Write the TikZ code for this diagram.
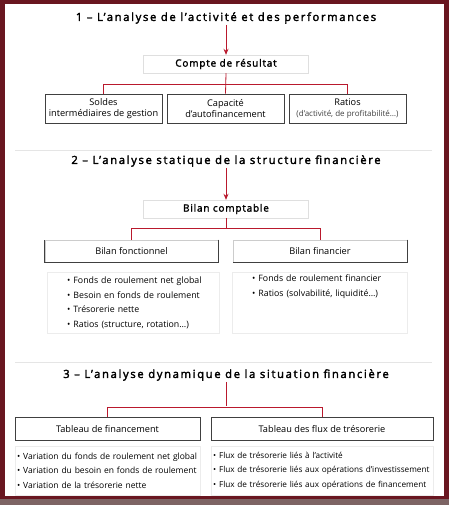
\documentclass[tikz,border=0pt]{standalone}
\usepackage{fontspec}
\setmainfont{Open Sans}
\newfontfamily\titlefont[LetterSpace=15,FakeBold=2.5]{Open Sans}
\newfontfamily\boxfont[LetterSpace=8,FakeBold=2]{Open Sans}
\usetikzlibrary{positioning}
\usetikzlibrary{arrows.meta}
\definecolor{rouge}{RGB}{185,25,45}
\definecolor{cadre}{RGB}{105,22,32}
\definecolor{bande}{RGB}{125,100,100}

\begin{document}
\begin{tikzpicture}[x=1pt,y=-1pt,
  titre/.style={font=\titlefont\fontsize{11.2}{12}\selectfont, inner sep=1pt},
  tete/.style={draw=gray!25, minimum width=165pt, minimum height=18pt, inner sep=0pt,
    font=\boxfont\fontsize{10}{11}\selectfont},
  boite/.style={draw=black!75, line width=0.6pt, inner sep=0pt, align=center,
    font=\fontsize{9.2}{11}\selectfont},
  liste/.style={draw=gray!15, anchor=north west, align=left, inner xsep=0pt, inner ysep=0pt,
    font=\fontsize{8.8}{14.6}\selectfont},
  lien/.style={rouge, line width=0.8pt},
  fleche/.style={rouge, line width=0.8pt, -{Stealth[length=6pt,width=5pt]}}]

% fond et cadre
\useasboundingbox (0,0) rectangle (449,505);
\fill[cadre] (0,0) rectangle (449,505);
\fill[bande] (0,499) rectangle (449,505);
\fill[white] (5,4) rectangle (444,496);

% separations
\draw[gray!20, line width=0.6pt] (15,150) -- (432,150);
\draw[gray!20, line width=0.6pt] (15,362) -- (432,362);

%%% 1
\node[titre] (t1) at (226,18) {1 – L’analyse de l’activité et des performances};
\node[tete] (cr) at (226,64) {Compte de résultat};
\draw[fleche] (t1.south) -- (cr.north);

\node[boite, minimum width=117pt, minimum height=29pt] (sig) at (103.5,108.5) {Soldes\\intermédiaires de gestion};
\node[boite, minimum width=117pt, minimum height=29pt] (caf) at (225.5,108.5) {Capacité\\d’autofinancement};
\node[boite, minimum width=117pt, minimum height=29pt] (rat) at (347.5,108.5) {Ratios\\{\fontsize{8}{9}\selectfont\color{black!75}(d’activité, de profitabilité…)}};

\draw[lien] (cr.south) -- (caf.north);
\draw[lien] (sig.north) -- ++(0,-9) -| (rat.north);

%%% 2
\node[titre] (t2) at (226,161) {2 – L’analyse statique de la structure financière};
\node[tete] (bc) at (226,209) {Bilan comptable};
\draw[fleche] (t2.south) -- (bc.north);

\node[boite, draw=gray!40, minimum width=173pt, minimum height=22pt] (bf) at (131.5,251) {Bilan fonctionnel};
\node[boite, draw=gray!40, minimum width=174pt, minimum height=22pt] (bfi) at (320,251) {Bilan financier};
\draw[black!75, line width=0.6pt] (bf.north east) |- (bf.south west) -- (bf.north west);
\draw[black!75, line width=0.6pt] (bfi.north east) |- (bfi.south west);

\draw[lien] (bc.south) -- ++(0,11);
\draw[lien] (bf.north) -- ++(0,-11) -| (bfi.north);

\node[liste, text width=172pt, minimum height=61pt] (lbf) at (47,272) {%
  \hspace*{20pt}• Fonds de roulement net global\\
  \hspace*{20pt}• Besoin en fonds de roulement\\
  \hspace*{20pt}• Trésorerie nette\\
  \hspace*{20pt}• Ratios (structure, rotation…)};
\node[liste, text width=175pt, minimum height=61pt] (lbfi) at (232,272) {%
  \hspace*{20pt}• Fonds de roulement financier\\
  \hspace*{20pt}• Ratios (solvabilité, liquidité…)\\
  \strut\\
  \strut};

%%% 3
\node[titre] (t3) at (226,375) {3 – L’analyse dynamique de la situation financière};

\node[boite, minimum width=185pt, minimum height=23pt] (tf) at (107.5,429) {Tableau de financement};
\node[boite, minimum width=222pt, minimum height=23pt] (tft) at (322,429) {Tableau des flux de trésorerie};

\draw[lien] (t3.south) -- ++(0,24);
\draw[lien] (tf.north) -- ++(0,-10) -| (tft.north);

\node[liste, text width=185pt, minimum height=49pt, font=\fontsize{8.5}{14.8}\selectfont] (ltf) at (15,446) {%
  \mbox{\hspace*{2pt}• Variation du fonds de roulement net global}\\
  \mbox{\hspace*{2pt}• Variation du besoin en fonds de roulement}\\
  \mbox{\hspace*{2pt}• Variation de la trésorerie nette}};
\node[liste, text width=222pt, minimum height=49pt, font=\fontsize{8.2}{14.8}\selectfont] (ltft) at (211,446) {%
  \mbox{\hspace*{2pt}• Flux de trésorerie liés à l’activité}\\
  \mbox{\hspace*{2pt}• Flux de trésorerie liés aux opérations d’investissement}\\
  \mbox{\hspace*{2pt}• Flux de trésorerie liés aux opérations de financement}};

\end{tikzpicture}
\end{document}
